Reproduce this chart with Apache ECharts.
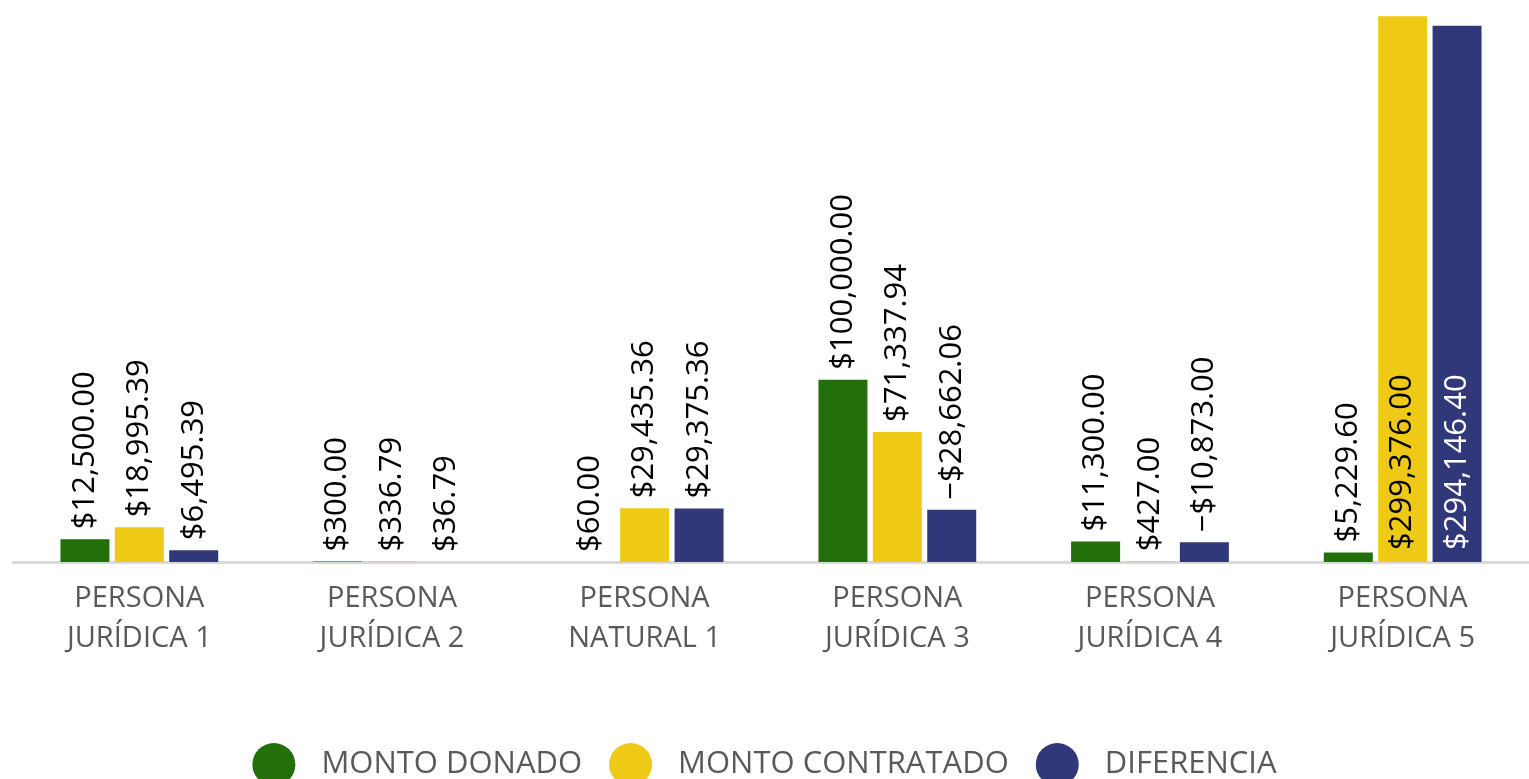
<!DOCTYPE html>
<html>
<head>
<meta charset="utf-8">
<script src="https://cdn.jsdelivr.net/npm/echarts@6/dist/echarts.min.js"></script>
<style>html,body{margin:0;padding:0;background:#fff}#c{width:1529px;height:779px}</style>
</head>
<body>
<div id="c"></div>
<script>
const categories = ['PERSONA\nJURÍDICA 1','PERSONA\nJURÍDICA 2','PERSONA\nNATURAL 1','PERSONA\nJURÍDICA 3','PERSONA\nJURÍDICA 4','PERSONA\nJURÍDICA 5'];
const seriesNames = ['MONTO DONADO','MONTO CONTRATADO','DIFERENCIA'];
const montoDonado = [12500.00, 300.00, 60.00, 100000.00, 11300.00, 5229.60];
const montoContratado = [18995.39, 336.79, 29435.36, 71337.94, 427.00, 299376.00];
const diferencia = [6495.39, 36.79, 29375.36, -28662.06, -10873.00, 294146.40];

const colors = ['#23700A', '#EECA16', '#30387A'];
const insideText = ['#000000', '#000000', '#FFFFFF'];
const FONT = 'Open Sans';

function fmt(v) {
  const s = '$' + Math.abs(v).toLocaleString('en-US', {minimumFractionDigits: 2, maximumFractionDigits: 2});
  return v < 0 ? '\u2212' + s : s;
}

const yMax = 300000;

function buildSeries(name, values, idx) {
  return {
    name: name,
    type: 'bar',
    barWidth: 49,
    barGap: '11%',
    itemStyle: { color: colors[idx] },
    data: values.map(v => {
      const inside = Math.abs(v) > yMax * 0.5;
      return {
        value: Math.abs(v),
        orig: v,
        label: inside ? {
          position: 'insideBottom',
          distance: 12,
          color: insideText[idx]
        } : {
          position: 'top',
          distance: 10,
          color: '#000000'
        }
      };
    }),
    label: {
      show: true,
      rotate: 90,
      align: 'left',
      verticalAlign: 'middle',
      fontFamily: FONT,
      fontSize: 31,
      formatter: p => fmt(p.data.orig)
    }
  };
}

const chart = echarts.init(document.getElementById('c'), null, {renderer: 'canvas'});
chart.setOption({
  animation: false,
  color: colors,
  grid: { left: 13, top: 15, width: 1519.5, bottom: 217, containLabel: false },
  legend: {
    data: seriesNames,
    left: 'center',
    top: 738,
    icon: 'circle',
    itemWidth: 43,
    itemHeight: 43,
    itemGap: 27,
    textStyle: { fontFamily: FONT, fontSize: 31, color: '#595959', padding: [0, 0, 0, 21] }
  },
  xAxis: {
    type: 'category',
    data: categories,
    offset: 1.5,
    axisLine: { show: true, lineStyle: { color: '#D9D9D9', width: 3 } },
    axisTick: { show: false },
    axisLabel: { fontFamily: FONT, fontSize: 29, color: '#595959', lineHeight: 40, margin: 15, interval: 0 }
  },
  yAxis: {
    type: 'value',
    min: 0,
    max: yMax,
    interval: 50000,
    show: false,
    splitLine: { show: false }
  },
  series: [
    buildSeries(seriesNames[0], montoDonado, 0),
    buildSeries(seriesNames[1], montoContratado, 1),
    buildSeries(seriesNames[2], diferencia, 2)
  ]
});
</script>
</body>
</html>
